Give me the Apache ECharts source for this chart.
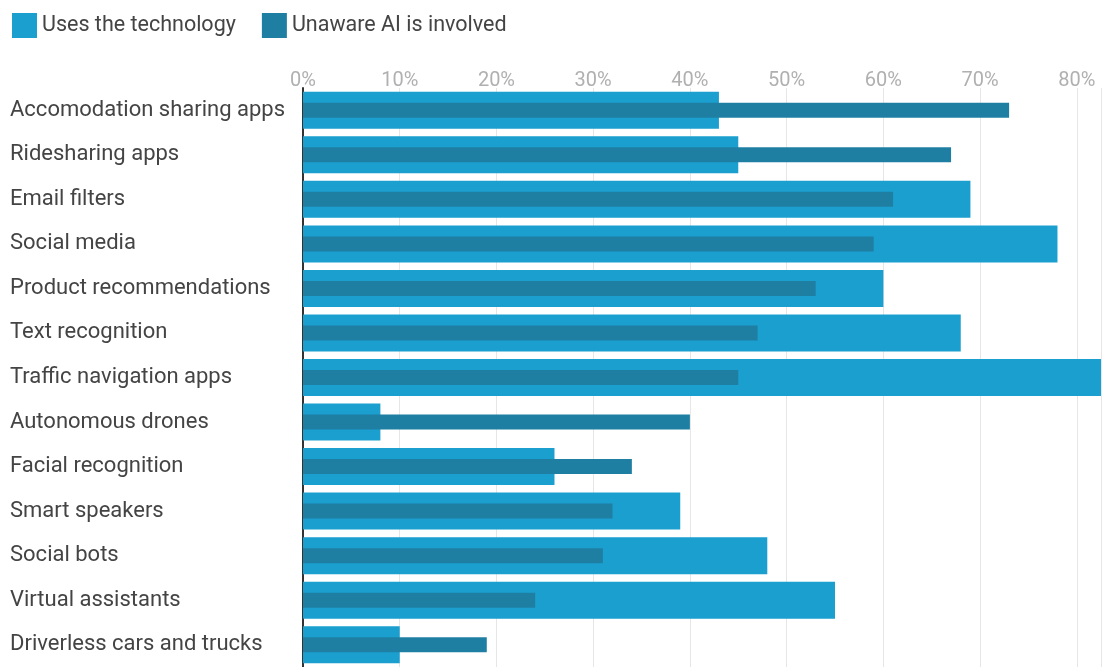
<!DOCTYPE html>
<html>
<head>
<meta charset="utf-8">
<script src="https://cdn.jsdelivr.net/npm/echarts@6/dist/echarts.min.js"></script>
<style>
html,body{margin:0;padding:0;background:#fff;}
#chart{width:1104px;height:667px;}
</style>
</head>
<body>
<div id="chart"></div>
<script>
const categories = [
  "Accomodation sharing apps",
  "Ridesharing apps",
  "Email filters",
  "Social media",
  "Product recommendations",
  "Text recognition",
  "Traffic navigation apps",
  "Autonomous drones",
  "Facial recognition",
  "Smart speakers",
  "Social bots",
  "Virtual assistants",
  "Driverless cars and trucks"
];
const usesTechnology = [43, 45, 69, 78, 60, 68, 84, 8, 26, 39, 48, 55, 10];
const unawareAI = [73, 67, 61, 59, 53, 47, 45, 40, 34, 32, 31, 24, 19];
const tickLabels = ["0%", "10%", "20%", "30%", "40%", "50%", "60%", "70%", "80%"];

const chart = echarts.init(document.getElementById('chart'));
const font = 'Roboto, "Noto Sans", sans-serif';
const catAxis = (show) => ({
  type: 'category', inverse: true, data: categories,
  show: show,
  axisLine: { show: show, lineStyle: { color: '#333', width: 2 } },
  axisTick: { show: false },
  axisLabel: { show: show, align: 'left', margin: 293, color: '#444', fontSize: 22, fontFamily: font }
});
chart.setOption({
  animation: false,
  textStyle: { fontFamily: font },
  legend: {
    left: 7, top: 8,
    itemWidth: 25, itemHeight: 25, itemGap: 26,
    icon: 'rect',
    textStyle: { fontSize: 21.5, color: '#444', fontFamily: font },
    data: ['Uses the technology', 'Unaware AI is involved']
  },
  grid: { left: 303, top: 88, right: 0, bottom: -2, containLabel: false },
  xAxis: {
    type: 'value', position: 'top', min: 0, max: 82.5, interval: 10,
    axisLine: { show: false }, axisTick: { show: false },
    splitLine: { lineStyle: { color: '#e6e6e6', width: 1 } },
    axisLabel: {
      color: '#b0b0b0', fontSize: 20, fontFamily: font, margin: -3,
      formatter: v => { const i = Math.round(v / 10); return (Math.abs(v - i * 10) < 1e-6 && tickLabels[i]) ? tickLabels[i] : ''; }
    }
  },
  yAxis: [catAxis(true), catAxis(false)],
  series: [
    {
      name: 'Uses the technology', type: 'bar', data: usesTechnology,
      yAxisIndex: 0, barWidth: 37,
      itemStyle: { color: '#1a9fcf' }
    },
    {
      name: 'Unaware AI is involved', type: 'bar', data: unawareAI,
      yAxisIndex: 1, barWidth: 15,
      itemStyle: { color: '#1f7fa3' }
    }
  ]
});
</script>
</body>
</html>
